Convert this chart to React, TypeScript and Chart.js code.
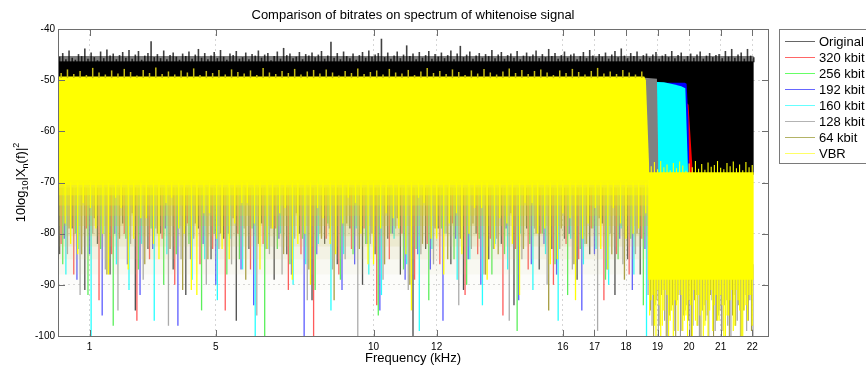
import React, { useEffect, useRef } from 'react';
import { Chart, registerables } from 'chart.js';

Chart.register(...registerables);

// ---------------- data ----------------
const chartTitle = 'Comparison of bitrates on spectrum of whitenoise signal';
const xAxisTitle = 'Frequency (kHz)';
const seriesLabels = ['Original', '320 kbit', '256 kbit', '192 kbit', '160 kbit', '128 kbit', '64 kbit', 'VBR'];
const seriesColors = ['#000000', '#ff0000', '#00ff00', '#0000ff', '#00ffff', '#808080', '#808000', '#ffff00'];
const xTickValues = [1, 5, 10, 12, 16, 17, 18, 19, 20, 21, 22];
const yTickValues = [-100, -90, -80, -70, -60, -50, -40];
const xRange = [0, 22.5];
const yRange = [-100, -40];

// dense parts of each spectrum, as [kHz, dB] outlines (filled down to a floor level)
const originalBandTop = [[0, -46.3], [22.05, -46.3]];
const originalBandFloor = -68.5;
const originalHazeTop = [[0, -45.3], [22.05, -45.3]];
const originalHazeFloor = -46.4;
const redBandTop = [[18.5, -54.3], [19.9, -54.3], [19.98, -54.8], [20.12, -68.5]];
const blueBandTop = [[18.5, -50.5], [19.86, -50.5], [19.92, -50.7], [19.98, -58], [20.01, -68.5]];
const cyanBandTop = [[18.5, -50.2], [19.2, -50.4], [19.5, -50.8], [19.75, -51.2], [19.88, -51.6], [19.97, -68.5]];
const grayBandTop = [[18.3, -49.4], [18.98, -49.7], [19.03, -68.5]];
const cutoffBandFloor = -68.5;
const vbrBandTop = [[0, -49.3], [18.58, -49.3], [18.63, -50], [18.74, -68], [18.74, -69.5]];
const vbrBandFloor = -69.5;
// how far down the overlapping low tails keep the area covered (below the dense VBR band)
const tailTop = [[0, -68], [18.72, -68]];
const tailFloors = [-91, -88, -85, -82.5, -80.5, -78.5, -76.5, -74.5, -72.5, -70.5];
const vbrHighBandTop = [[18.7, -68], [22.05, -68]];
const vbrHighBandFloor = -89;

// Original: upper peaks (every 0.1 kHz from 0.05 kHz)
const originalPeakStart = 0.05;
const originalPeakStep = 0.1;
const originalPeakBase = -46.5;
const originalPeaks = [
  -45.4, -44.7, -45.9, -44.2, -45.6, -46.0, -44.9, -45.3, -43.8, -45.8, -44.6, -45.5, -46.1, -44.4, -45.7, -44.0, -45.2, -44.8, -45.9, -45.1,
  -44.5, -45.6, -44.1, -45.8, -45.0, -44.3, -46.0, -45.2, -44.7, -42.4, -45.5, -44.9, -45.7, -44.2, -45.9, -45.1, -44.6, -45.4, -46.0, -44.8,
  -45.3, -44.4, -45.8, -45.0, -43.9, -45.6, -44.7, -45.9, -45.2, -44.5, -45.7, -44.1, -45.4, -46.0, -44.8, -45.1, -44.3, -45.8, -45.5, -44.6,
  -45.9, -44.9, -45.2, -44.2, -45.6, -45.0, -44.7, -46.1, -45.3, -44.4, -45.8, -43.7, -45.1, -44.8, -45.7, -45.4, -44.5, -45.9, -44.9, -45.2,
  -44.6, -45.5, -45.0, -44.3, -45.8, -45.2, -42.5, -45.6, -44.7, -45.9, -44.4, -45.3, -45.7, -44.8, -46.0, -45.1, -44.5, -45.6, -44.2, -45.4,
  -45.0, -44.7, -41.9, -45.5, -44.6, -45.8, -45.2, -44.4, -45.7, -45.0, -43.2, -45.3, -44.8, -45.9, -44.5, -45.6, -45.1, -44.3, -45.8, -44.9,
  -45.4, -44.6, -45.7, -45.1, -44.2, -45.9, -44.8, -43.3, -45.5, -45.0, -44.4, -45.8, -45.2, -44.7, -45.6, -44.9, -45.3, -44.1, -45.7, -45.0,
  -44.5, -45.8, -45.1, -44.8, -45.6, -44.3, -45.9, -45.2, -44.6, -45.4, -45.0, -44.2, -45.7, -44.9, -45.5, -43.9, -45.3, -44.7, -45.8, -45.1,
  -44.4, -45.6, -45.0, -44.8, -45.9, -45.3, -44.5, -45.7, -44.1, -45.2, -45.6, -44.9, -45.4, -44.6, -45.8, -45.0, -44.3, -45.5, -43.8, -45.2,
  -45.7, -44.7, -45.3, -44.4, -45.9, -45.1, -44.8, -45.6, -45.0, -44.5, -45.8, -45.2, -44.9, -45.5, -44.3, -45.7, -45.1, -44.6, -45.9, -45.3,
  -44.8, -45.6, -45.0, -44.4, -45.8, -45.2, -44.7, -45.5, -45.1, -44.9, -45.7, -44.3, -45.4, -43.9, -45.6, -45.0, -44.6, -45.8, -43.9, -45.2, -45.5,
];

// VBR: upper peaks (every 0.2 kHz from 0.1 kHz)
const vbrPeakStart = 0.1;
const vbrPeakStep = 0.2;
const vbrPeakBase = -49.6;
const vbrPeaks = [
  -48.6, -47.9, -48.8, -48.2, -49.0, -47.6, -48.5, -48.9, -48.1, -48.7,
  -47.8, -48.4, -49.1, -48.0, -48.6, -47.5, -48.8, -48.3, -48.9, -48.1,
  -48.5, -47.7, -49.0, -48.2, -48.6, -48.0, -48.9, -47.9, -48.4, -48.7,
  -48.1, -49.0, -47.6, -48.5, -48.8, -48.2, -48.6, -47.8, -48.9, -48.3,
  -48.0, -48.7, -47.9, -48.5, -49.1, -48.2, -48.6, -47.7, -48.8, -48.4,
  -48.1, -48.9, -47.8, -48.5, -48.7, -48.0, -49.0, -48.3, -47.6, -48.6,
  -48.2, -48.8, -47.9, -48.4, -49.0, -48.1, -48.7, -47.8, -48.5, -48.9,
  -48.3, -47.7, -48.6, -48.0, -48.8, -48.2, -47.9, -48.5, -49.0, -48.1,
  -48.6, -47.8, -48.4, -48.9, -48.2, -47.6, -48.7, -48.3, -48.8, -48.0,
  -48.5, -48.9, -48.3,
];

// downward dips below the dense band, every 0.4 kHz (per-series start offsets)
const dipStep = 0.4;
const originalDips = [-84, -79, -91, -82, -88, -78, -95, -83, -80, -87, -92, -79, -85, -81, -97, -83, -78, -89, -84, -80, -93, -82, -86, -79, -90, -84, -81, -88, -100, -83, -79, -86, -91, -80, -85, -82, -94, -79, -87, -83, -81, -89, -84, -78, -92, -85, -88];
const k320Dips = [-82, -88, -79, -93, -84, -80, -97, -85, -81, -90, -78, -86, -83, -95, -80, -87, -82, -79, -91, -84, -100, -81, -88, -83, -79, -94, -85, -80, -89, -82, -86, -78, -92, -84, -81, -96, -83, -87, -80, -90, -82, -85, -79, -93, -84, -88, -81];
const k256Dips = [-86, -80, -92, -83, -98, -81, -87, -79, -90, -84, -82, -95, -80, -88, -85, -79, -100, -83, -86, -81, -91, -78, -89, -84, -82, -96, -80, -87, -83, -93, -79, -85, -90, -81, -88, -84, -99, -82, -80, -86, -92, -83, -79, -89, -85, -81, -94];
const k192Dips = [-81, -89, -84, -96, -80, -86, -92, -83, -79, -98, -85, -82, -90, -80, -87, -94, -83, -81, -88, -100, -84, -79, -91, -86, -82, -95, -80, -89, -84, -87, -97, -81, -85, -90, -83, -79, -93, -86, -82, -88, -80, -95, -84, -87, -81, -91, -83];
const k160Dips = [-88, -83, -100, -80, -86, -91, -82, -97, -84, -79, -89, -85, -93, -81, -87, -100, -83, -80, -90, -86, -82, -95, -84, -79, -88, -92, -81, -86, -99, -83, -80, -89, -85, -94, -82, -87, -80, -91, -84, -97, -81, -86, -83, -90, -79, -88, -100];
const k128Dips = [-84, -92, -80, -87, -95, -82, -89, -79, -98, -85, -81, -90, -83, -86, -79, -96, -84, -88, -81, -93, -80, -87, -85, -100, -82, -89, -79, -91, -84, -86, -80, -94, -83, -88, -81, -97, -85, -79, -90, -83, -87, -82, -99, -80, -86, -84, -92];
const k64Dips = [-79, -84, -77, -88, -81, -76, -86, -80, -83, -91, -78, -85, -80, -77, -89, -82, -79, -84, -76, -87, -81, -93, -78, -83, -80, -86, -77, -90, -82, -79, -85, -81, -78, -88, -84, -76, -83, -80, -95, -79, -86, -82, -77, -84, -89, -80, -83];
const vbrDips = [-76, -82, -74, -79, -88, -75, -81, -77, -85, -73, -80, -92, -76, -83, -78, -74, -87, -79, -75, -82, -90, -77, -84, -73, -80, -86, -76, -79, -95, -74, -81, -78, -84, -75, -89, -77, -82, -74, -80, -86, -76, -93, -78, -83, -75, -81, -79];
const vbrDips2 = [-78, -84, -75, -80, -73, -87, -77, -82, -74, -79, -91, -76, -81, -85, -74, -78, -83, -76, -89, -80, -75, -82, -78, -74, -86, -79, -77, -84, -73, -81, -88, -76, -80, -75, -83, -78, -92, -74, -79, -85, -77, -81, -75, -87, -78, -80, -76];
const dipStarts = { original: 0.05, k320: 0.1, k256: 0.15, k192: 0.2, k160: 0.25, k128: 0.3, k64: 0.35, vbr: 0.0, vbr2: 0.225 };
const dipTop = -71;
const vbrDipTop = -70;

// above the encoders' cut-off: every 0.1 kHz
const highStep = 0.1;
const vbrHighTopStart = 18.8;
const vbrHighTops = [-66.8, -66.0, -67.4, -65.8, -67.0, -66.5, -67.6, -66.2, -67.2, -65.9, -66.7, -67.7, -66.3, -67.0, -65.8, -67.3, -66.4, -67.5, -66.1, -66.9, -66.6, -65.8, -67.1, -67.4, -66.2, -66.8, -65.9, -67.2, -66.5, -67.6, -66.0, -67.0, -66.6];
const vbrHighDipStart = 18.75;
const vbrHighDips = [-96, -92, -100, -94, -98, -91, -100, -95, -93, -99, -92, -97, -100, -94, -91, -98, -96, -100, -93, -95, -99, -92, -97, -94, -100, -96, -91, -98, -93, -100, -95, -97, -92];
const vbrHighDip2Start = 18.8;
const vbrHighDips2 = [-93, -98, -91, -100, -95, -92, -97, -100, -94, -91, -99, -96, -93, -100, -97, -92, -95, -98, -100, -91, -94, -97, -92, -100, -96, -93, -99, -91, -95, -100, -94, -92, -98];
const k128HighDipStart = 18.825;
const k128HighDips = [-98, -94, -100, -92, -97, -100, -95, -99, -93, -100, -96, -94, -100, -98, -92, -100, -95, -97, -100, -93, -99, -96, -100, -94, -98, -100, -92, -97, -100, -95, -99, -93, -100];
const k64HighDipStart = 18.775;
const k64HighDips = [-95, -100, -93, -98, -91, -100, -96, -94, -100, -92, -99, -95, -97, -100, -93, -98, -100, -94, -96, -92, -100, -97, -95, -99, -93, -100, -96, -98, -94, -100, -92, -97, -99];

// ---------------- styling ----------------
const FONT = '"Liberation Sans", Arial, Helvetica, sans-serif';
const AXIS_COLOR = '#6e6e6e';
const tailColors = [
  'rgba(200,198,150,0.05)', 'rgba(200,198,140,0.074)', 'rgba(200,196,120,0.114)', 'rgba(200,192,90,0.141)', 'rgba(200,190,60,0.179)',
  'rgba(205,195,50,0.273)', 'rgba(225,215,40,0.35)', 'rgba(242,236,20,0.46)', 'rgba(252,250,5,0.57)', 'rgba(255,255,0,0.67)',
];

function buildDatasets() {
  const ds: any[] = [];
  const band = (pts: number[][], floor: number, color: string) => {
    ds.push({
      type: 'line',
      data: pts.map(([x, y]) => ({ x, y })),
      fill: { value: floor },
      backgroundColor: color,
      borderColor: 'rgba(0,0,0,0)',
      borderWidth: 0,
      pointRadius: 0,
      pointHoverRadius: 0,
      tension: 0,
    });
  };
  const spikes = (start: number, step: number, vals: number[], base: number, color: string, width: number) => {
    const data: any[] = vals.map((v, i) => ({ x: start + step * i, y: [Math.min(v, base), Math.max(v, base)] }));
    ds.push({
      type: 'bar',
      data,
      backgroundColor: color,
      borderWidth: 0,
      barThickness: width,
      grouped: false,
      inflateAmount: 0,
    });
  };

  // Original (drawn first, underneath)
  band(originalBandTop, originalBandFloor, seriesColors[0]);
  band(originalHazeTop, originalHazeFloor, 'rgba(20,20,20,0.55)');
  spikes(originalPeakStart, originalPeakStep, originalPeaks, originalPeakBase, 'rgba(0,0,0,0.75)', 1.6);

  // low tails of every series
  spikes(dipStarts.original, dipStep, originalDips, dipTop, 'rgba(30,30,30,0.8)', 1.3);
  spikes(dipStarts.k320, dipStep, k320Dips, dipTop, 'rgba(255,50,50,0.8)', 1.3);
  spikes(dipStarts.k256, dipStep, k256Dips, dipTop, 'rgba(50,235,50,0.8)', 1.3);
  spikes(dipStarts.k192, dipStep, k192Dips, dipTop, 'rgba(50,50,255,0.8)', 1.3);
  spikes(dipStarts.k160, dipStep, k160Dips, dipTop, 'rgba(0,255,255,0.85)', 1.3);
  spikes(dipStarts.k128, dipStep, k128Dips, dipTop, 'rgba(150,150,150,0.8)', 1.3);
  spikes(dipStarts.k64, dipStep, k64Dips, dipTop, 'rgba(150,140,30,0.85)', 1.3);

  // tails above the cut-off
  spikes(k128HighDipStart, highStep, k128HighDips, -86, 'rgba(128,128,128,0.85)', 1);
  spikes(k64HighDipStart, highStep, k64HighDips, -86, 'rgba(140,130,20,0.85)', 1);

  // encoders around their cut-off
  band(redBandTop, cutoffBandFloor, seriesColors[1]);
  band(blueBandTop, cutoffBandFloor, seriesColors[3]);
  band(cyanBandTop, cutoffBandFloor, seriesColors[4]);
  band(grayBandTop, cutoffBandFloor, seriesColors[5]);

  // coverage of the upper part of the tails (mostly VBR, drawn over the rest)
  tailFloors.forEach((f, i) => band(tailTop, f, tailColors[i]));

  // VBR (drawn last, on top)
  band(vbrBandTop, vbrBandFloor, seriesColors[7]);
  spikes(vbrPeakStart, vbrPeakStep, vbrPeaks, vbrPeakBase, 'rgb(200,190,20)', 1.5);
  spikes(dipStarts.vbr, dipStep, vbrDips, vbrDipTop, seriesColors[7], 1.3);
  spikes(dipStarts.vbr2, dipStep, vbrDips2, vbrDipTop, seriesColors[7], 1.3);
  band(vbrHighBandTop, vbrHighBandFloor, seriesColors[7]);
  spikes(vbrHighTopStart, highStep, vbrHighTops, -68.5, seriesColors[7], 1.1);
  spikes(vbrHighDipStart, highStep, vbrHighDips, -88.5, seriesColors[7], 1.2);
  spikes(vbrHighDip2Start, highStep, vbrHighDips2, -88.5, seriesColors[7], 1.2);

  ds.forEach((d, i) => { d.order = ds.length - i; });
  return ds;
}

const decorPlugin = {
  id: 'matlabDecor',
  afterDraw(chart: any) {
    const ctx: CanvasRenderingContext2D = chart.ctx;
    const { left, right, top, bottom } = chart.chartArea;
    const xs = chart.scales.x;
    const ys = chart.scales.y;
    ctx.save();
    // axes box
    ctx.strokeStyle = AXIS_COLOR;
    ctx.lineWidth = 1;
    ctx.strokeRect(left + 0.5, top + 0.5, right - left, bottom - top);
    // inward tick marks
    ctx.beginPath();
    xTickValues.forEach((v) => {
      const px = Math.round(xs.getPixelForValue(v)) + 0.5;
      ctx.moveTo(px, top + 1); ctx.lineTo(px, top + 7);
      ctx.moveTo(px, bottom); ctx.lineTo(px, bottom - 6);
    });
    yTickValues.forEach((v) => {
      const py = Math.round(ys.getPixelForValue(v)) + 0.5;
      ctx.moveTo(left + 1, py); ctx.lineTo(left + 7, py);
      ctx.moveTo(right, py); ctx.lineTo(right - 6, py);
    });
    ctx.stroke();

    // title and x label
    ctx.fillStyle = '#000';
    ctx.textAlign = 'center';
    ctx.textBaseline = 'alphabetic';
    ctx.font = `13px ${FONT}`;
    const cx = (left + right) / 2;
    ctx.fillText(chartTitle, cx, 19);
    ctx.fillText(xAxisTitle, cx, 362);

    // y label: 10log10|Xn(f)|^2
    ctx.save();
    ctx.translate(25, (top + bottom) / 2);
    ctx.rotate(-Math.PI / 2);
    ctx.textAlign = 'left';
    const big = `13px ${FONT}`;
    const small = `9px ${FONT}`;
    const parts: [string, string, number][] = [
      ['10log', big, 0], ['10', small, 3], ['|X', big, 0], ['n', small, 3], ['(f)|', big, 0], ['2', small, -6],
    ];
    let total = 0;
    parts.forEach(([t, f]) => { ctx.font = f; total += ctx.measureText(t).width; });
    let x = -total / 2;
    parts.forEach(([t, f, dy]) => { ctx.font = f; ctx.fillText(t, x, dy); x += ctx.measureText(t).width; });
    ctx.restore();

    // legend
    const lx = 779.5, ly = 29.5;
    ctx.fillStyle = '#fff';
    ctx.fillRect(lx, ly, 100, 134);
    ctx.strokeStyle = '#7a7a7a';
    ctx.lineWidth = 1;
    ctx.strokeRect(lx, ly, 100, 134);
    ctx.font = `13px ${FONT}`;
    ctx.textAlign = 'left';
    ctx.textBaseline = 'middle';
    seriesLabels.forEach((label, i) => {
      const ry = Math.round(40.7 + i * 16.04);
      ctx.save();
      ctx.globalAlpha = 0.6;
      ctx.strokeStyle = seriesColors[i];
      ctx.lineWidth = 1;
      ctx.beginPath();
      ctx.moveTo(785, ry + 0.5);
      ctx.lineTo(815, ry + 0.5);
      ctx.stroke();
      ctx.restore();
      ctx.fillStyle = '#000';
      ctx.fillText(label, 819, ry + 1);
    });
    ctx.restore();
  },
};

export default function App() {
  const ref = useRef<HTMLCanvasElement | null>(null);
  useEffect(() => {
    if (!ref.current) return;
    const chart = new Chart(ref.current, {
      type: 'line',
      data: { datasets: buildDatasets() },
      options: {
        responsive: false,
        animation: false,
        events: [],
        layout: { padding: { left: 0, top: 29, right: 98, bottom: 0 } },
        plugins: { legend: { display: false }, title: { display: false }, tooltip: { enabled: false } },
        scales: {
          x: {
            type: 'linear',
            min: xRange[0],
            max: xRange[1],
            offset: false,
            grid: { offset: false, color: 'rgba(0,0,0,0.16)', drawTicks: false, lineWidth: 1 },
            border: { display: false, dash: [2, 3] },
            ticks: { font: { family: FONT, size: 10 }, color: '#000', padding: 5, maxRotation: 0, autoSkip: false, callback: (v: any) => String(v) },
            afterBuildTicks: (s: any) => { s.ticks = xTickValues.map((value) => ({ value })); },
            afterFit: (s: any) => { s.height = 31; },
          },
          y: {
            type: 'linear',
            min: yRange[0],
            max: yRange[1],
            beginAtZero: false,
            grid: { color: 'rgba(0,0,0,0.16)', drawTicks: false, lineWidth: 1 },
            border: { display: false, dash: [2, 3] },
            ticks: { stepSize: 10, font: { family: FONT, size: 10 }, color: '#000', padding: 3 },
            afterBuildTicks: (s: any) => { s.ticks = yTickValues.map((value) => ({ value })); },
            afterFit: (s: any) => { s.width = 58; },
          },
        },
      } as any,
      plugins: [decorPlugin],
    });
    return () => chart.destroy();
  }, []);
  return (
    <div style={{ position: 'fixed', left: 0, top: 0, width: 866, height: 367, background: '#fff' }}>
      <canvas ref={ref} width={866} height={367} style={{ display: 'block' }} />
    </div>
  );
}
